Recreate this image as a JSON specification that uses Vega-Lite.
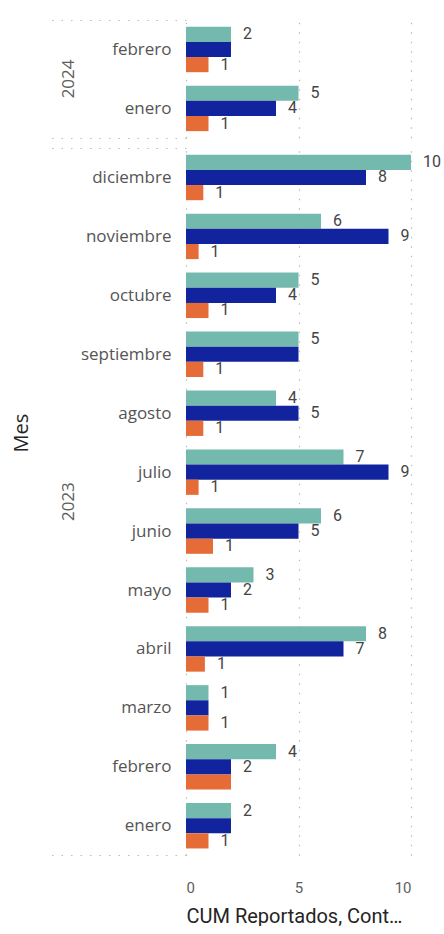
{
  "$schema": "https://vega.github.io/schema/vega-lite/v6.json",
  "padding": {"left": 12, "top": 11, "right": 0, "bottom": 0},
  "background": "#ffffff",
  "data": {"values": [
    {"year": "2024", "month": "febrero", "m": 2, "series": "CUM Reportados", "value": 2},
    {"year": "2024", "month": "febrero", "m": 2, "series": "Conteo de CUM", "value": 2},
    {"year": "2024", "month": "febrero", "m": 2, "series": "Promedio", "value": 1.0},
    {"year": "2024", "month": "enero", "m": 1, "series": "CUM Reportados", "value": 5},
    {"year": "2024", "month": "enero", "m": 1, "series": "Conteo de CUM", "value": 4},
    {"year": "2024", "month": "enero", "m": 1, "series": "Promedio", "value": 1.0},
    {"year": "2023", "month": "diciembre", "m": 12, "series": "CUM Reportados", "value": 10},
    {"year": "2023", "month": "diciembre", "m": 12, "series": "Conteo de CUM", "value": 8},
    {"year": "2023", "month": "diciembre", "m": 12, "series": "Promedio", "value": 0.77},
    {"year": "2023", "month": "noviembre", "m": 11, "series": "CUM Reportados", "value": 6},
    {"year": "2023", "month": "noviembre", "m": 11, "series": "Conteo de CUM", "value": 9},
    {"year": "2023", "month": "noviembre", "m": 11, "series": "Promedio", "value": 0.56},
    {"year": "2023", "month": "octubre", "m": 10, "series": "CUM Reportados", "value": 5},
    {"year": "2023", "month": "octubre", "m": 10, "series": "Conteo de CUM", "value": 4},
    {"year": "2023", "month": "octubre", "m": 10, "series": "Promedio", "value": 1.0},
    {"year": "2023", "month": "septiembre", "m": 9, "series": "CUM Reportados", "value": 5},
    {"year": "2023", "month": "septiembre", "m": 9, "series": "Conteo de CUM", "value": 5},
    {"year": "2023", "month": "septiembre", "m": 9, "series": "Promedio", "value": 0.77},
    {"year": "2023", "month": "agosto", "m": 8, "series": "CUM Reportados", "value": 4},
    {"year": "2023", "month": "agosto", "m": 8, "series": "Conteo de CUM", "value": 5},
    {"year": "2023", "month": "agosto", "m": 8, "series": "Promedio", "value": 0.77},
    {"year": "2023", "month": "julio", "m": 7, "series": "CUM Reportados", "value": 7},
    {"year": "2023", "month": "julio", "m": 7, "series": "Conteo de CUM", "value": 9},
    {"year": "2023", "month": "julio", "m": 7, "series": "Promedio", "value": 0.56},
    {"year": "2023", "month": "junio", "m": 6, "series": "CUM Reportados", "value": 6},
    {"year": "2023", "month": "junio", "m": 6, "series": "Conteo de CUM", "value": 5},
    {"year": "2023", "month": "junio", "m": 6, "series": "Promedio", "value": 1.2},
    {"year": "2023", "month": "mayo", "m": 5, "series": "CUM Reportados", "value": 3},
    {"year": "2023", "month": "mayo", "m": 5, "series": "Conteo de CUM", "value": 2},
    {"year": "2023", "month": "mayo", "m": 5, "series": "Promedio", "value": 1.0},
    {"year": "2023", "month": "abril", "m": 4, "series": "CUM Reportados", "value": 8},
    {"year": "2023", "month": "abril", "m": 4, "series": "Conteo de CUM", "value": 7},
    {"year": "2023", "month": "abril", "m": 4, "series": "Promedio", "value": 0.84},
    {"year": "2023", "month": "marzo", "m": 3, "series": "CUM Reportados", "value": 1},
    {"year": "2023", "month": "marzo", "m": 3, "series": "Conteo de CUM", "value": 1},
    {"year": "2023", "month": "marzo", "m": 3, "series": "Promedio", "value": 1.0},
    {"year": "2023", "month": "febrero", "m": 2, "series": "CUM Reportados", "value": 4},
    {"year": "2023", "month": "febrero", "m": 2, "series": "Conteo de CUM", "value": 2},
    {"year": "2023", "month": "febrero", "m": 2, "series": "Promedio", "value": 2},
    {"year": "2023", "month": "enero", "m": 1, "series": "CUM Reportados", "value": 2},
    {"year": "2023", "month": "enero", "m": 1, "series": "Conteo de CUM", "value": 2},
    {"year": "2023", "month": "enero", "m": 1, "series": "Promedio", "value": 1.0}
  ]},
  "facet": {
    "row": {
      "field": "year", "type": "nominal", "sort": "descending",
      "header": {
        "title": "Mes", "titleFontSize": 20, "titleColor": "#252423", "titleFontWeight": "normal", "titleFont": "Open Sans", "titlePadding": 8,
        "labelAngle": -90, "labelFontSize": 17, "labelColor": "#605E5C", "labelFont": "Open Sans", "labelPadding": -36
      }
    }
  },
  "spacing": {"row": 0},
  "resolve": {"scale": {"y": "independent"}},
  "spec": {
    "width": 225,
    "height": {"step": 15.15},
    "encoding": {
      "y": {
        "field": "month", "type": "nominal",
        "sort": {"field": "m", "op": "max", "order": "descending"},
        "scale": {"paddingInner": 0, "paddingOuter": 0},
        "axis": {
          "title": null, "labelFontSize": 17, "labelColor": "#555555", "labelFont": "Open Sans",
          "domain": false, "ticks": true, "tickBand": "extent", "tickSize": 135, "tickDash": [1.5, 8], "tickWidth": 1.2,
          "tickColor": {"condition": {"test": "datum.value === 'enero' || datum.extra", "value": "#BEBBB8"}, "value": "transparent"},
          "labelPadding": -120
        }
      },
      "yOffset": {
        "field": "series", "type": "nominal",
        "sort": ["CUM Reportados", "Conteo de CUM", "Promedio"],
        "scale": {"paddingInner": 0, "paddingOuter": 0.445}
      },
      "x": {
        "field": "value", "type": "quantitative",
        "scale": {"domain": [0, 10]},
        "axis": {
          "values": [0, 5, 10], "grid": true, "gridDash": [1.5, 8], "gridColor": "#BEBBB8", "gridWidth": 1.2,
          "domain": false, "ticks": false, "labelFontSize": 15, "labelColor": "#605E5C", "labelFont": "Roboto", "labelPadding": 24,
          "title": "CUM Reportados, Cont…", "titleAnchor": "start", "titleFontSize": 20, "titleFontWeight": "normal", "titleColor": "#252423", "titleFont": "Roboto", "titlePadding": 11
        }
      }
    },
    "layer": [
      {
        "mark": {"type": "bar"},
        "encoding": {
          "color": {
            "field": "series", "type": "nominal",
            "scale": {"domain": ["CUM Reportados", "Conteo de CUM", "Promedio"], "range": ["#74B9AD", "#12239E", "#E66C37"]},
            "legend": null
          }
        }
      },
      {
        "transform": [
          {"calculate": "round(datum.value)", "as": "r"},
          {"window": [{"op": "lag", "field": "r", "param": 1, "as": "p1"}, {"op": "lag", "field": "r", "param": 2, "as": "p2"}], "groupby": ["year", "month"], "sort": [{"field": "series", "order": "ascending"}]},
          {"filter": "!(datum.r === datum.p1 && datum.p1 !== datum.p2)"}
        ],
        "mark": {"type": "text", "align": "left", "baseline": "middle", "dx": 12, "fontSize": 16, "font": "Roboto", "color": "#444444"},
        "encoding": {
          "text": {"field": "value", "type": "quantitative", "format": ".0f"}
        }
      }
    ]
  },
  "config": {
    "view": {"stroke": null},
    "font": "Open Sans"
  }
}
